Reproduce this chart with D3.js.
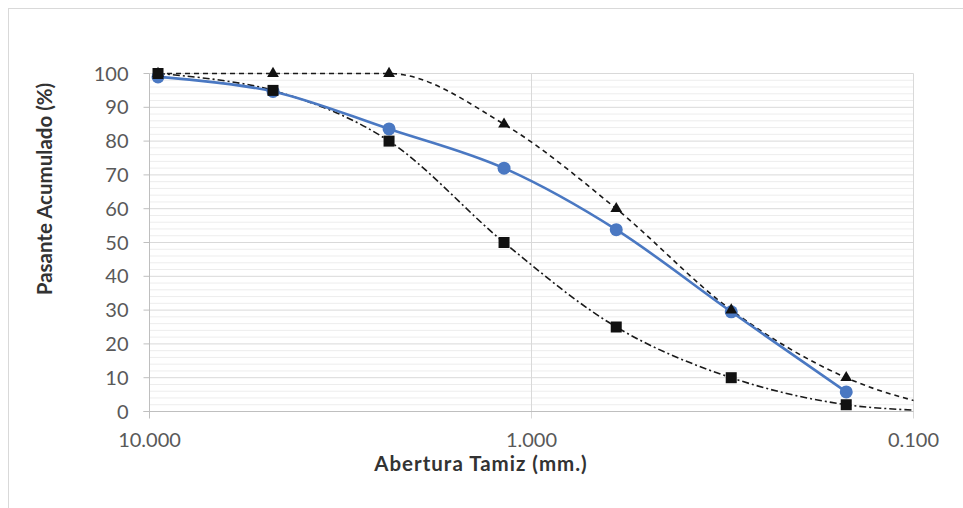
<!DOCTYPE html>
<html>
<head>
  <title>Curva granulometrica</title>
  <script src="https://d3js.org/d3.v7.min.js"></script>
  <meta charset="utf-8">
  <style>
    body { margin: 0; background: #FFFFFF; }
    text { font-family: Lato, "Open Sans", sans-serif; }
    .ticklabel { fill: #595959; font-size: 20px; }
    .title { fill: #333333; font-size: 20.5px; font-weight: bold; }
  </style>
</head>
<body>

  <svg id="granulo" height="508" width="963"></svg>

  <script>
    // sieve openings (mm) and cumulative passing (%)
    const sieves = [9.5, 4.75, 2.36, 1.18, 0.6, 0.3, 0.15];
    const muestra = [99, 94.7, 83.6, 72, 53.8, 29.5, 5.8];

    // limit curves carry one more sieve (0.075) outside the axis range
    const limitSieves = [9.5, 4.75, 2.36, 1.18, 0.6, 0.3, 0.15, 0.075];
    const limiteSuperior = [100, 100, 100, 85, 60, 30, 10, 0];
    const limiteInferior = [100, 95, 80, 50, 25, 10, 2, 0];

    const xTicks = [10, 1, 0.1];
    const yTicks = [0, 10, 20, 30, 40, 50, 60, 70, 80, 90, 100];

    const svg = d3.select("svg#granulo");
    const width = svg.attr("width");
    const height = svg.attr("height");
    const margin = { "top": 73.5, "right": 49.5, "bottom": 96.5, "left": 149.5 };
    const chartWidth = width - margin.left - margin.right;
    const chartHeight = height - margin.top - margin.bottom;

    const xScale = d3.scaleLog().domain([10, 0.1]).range([0, chartWidth]);
    const yScale = d3.scaleLinear().domain([0, 100]).range([chartHeight, 0]);

    // outer chart border
    svg.append("rect")
      .attr("x", 8.5).attr("y", 8.5)
      .attr("width", 980).attr("height", 540)
      .attr("fill", "none").attr("stroke", "#d9d9d9");

    let annotations = svg.append("g").attr("id", "annotations")
      .attr("transform", "translate(" + margin.left + "," + margin.top + ")");

    // minor horizontal gridlines every 2 %
    annotations.selectAll("line.minor").data(d3.range(2, 100, 2).filter(d => d % 10 != 0))
      .join("line").attr("class", "minor")
      .attr("x1", 0).attr("x2", chartWidth)
      .attr("y1", d => yScale(d)).attr("y2", d => yScale(d))
      .attr("stroke", "#ededed").attr("stroke-width", 1);

    // major horizontal gridlines
    annotations.selectAll("line.major").data(yTicks.filter(d => d > 0))
      .join("line").attr("class", "major")
      .attr("x1", 0).attr("x2", chartWidth)
      .attr("y1", d => yScale(d)).attr("y2", d => yScale(d))
      .attr("stroke", "#d9d9d9").attr("stroke-width", 1);

    // vertical gridlines
    annotations.selectAll("line.vgrid").data(xTicks.slice(1))
      .join("line").attr("class", "vgrid")
      .attr("x1", d => xScale(d)).attr("x2", d => xScale(d))
      .attr("y1", 0).attr("y2", chartHeight + 7)
      .attr("stroke", "#d9d9d9").attr("stroke-width", 1);

    // axes lines
    annotations.append("line")
      .attr("x1", 0).attr("x2", 0).attr("y1", 0).attr("y2", chartHeight + 7)
      .attr("stroke", "#bfbfbf");
    annotations.append("line")
      .attr("x1", -6).attr("x2", chartWidth).attr("y1", chartHeight).attr("y2", chartHeight)
      .attr("stroke", "#bfbfbf");

    // y ticks and labels
    annotations.selectAll("line.ytick").data(yTicks)
      .join("line").attr("class", "ytick")
      .attr("x1", -6).attr("x2", 0)
      .attr("y1", d => yScale(d)).attr("y2", d => yScale(d))
      .attr("stroke", "#bfbfbf");

    annotations.selectAll("text.ylab").data(yTicks)
      .join("text").attr("class", "ticklabel ylab")
      .attr("x", -21)
      .attr("y", d => yScale(d))
      .attr("dy", "0.35em")
      .attr("text-anchor", "end")
      .text(d => d);

    annotations.selectAll("text.xlab").data(xTicks)
      .join("text").attr("class", "ticklabel xlab")
      .attr("x", d => xScale(d))
      .attr("y", chartHeight + 35)
      .attr("text-anchor", "middle")
      .text(d3.format(".3f"));

    // axis titles
    svg.append("text").attr("class", "title")
      .attr("x", 481).attr("y", 471)
      .attr("text-anchor", "middle")
      .style("letter-spacing", "1px")
      .text("Abertura Tamiz (mm.)");

    svg.append("text").attr("class", "title")
      .attr("transform", "translate(52,189) rotate(-90)")
      .attr("text-anchor", "middle")
      .text("Pasante Acumulado (%)");

    // plot area
    svg.append("clipPath").attr("id", "plotclip")
      .append("rect").attr("x", 0).attr("y", -10)
      .attr("width", chartWidth).attr("height", chartHeight + 20);

    let chartArea = svg.append("g").attr("id", "curves")
      .attr("transform", "translate(" + margin.left + "," + margin.top + ")");

    const smooth = d3.line()
      .x(d => xScale(d[0]))
      .y(d => yScale(d[1]))
      .curve(d3.curveCatmullRom.alpha(0));

    const smoothFlat = d3.line()
      .x(d => xScale(d[0]))
      .y(d => yScale(d[1]))
      .curve(d3.curveMonotoneX);

    const supData = limitSieves.map((s, i) => [s, limiteSuperior[i]]);
    const infData = limitSieves.map((s, i) => [s, limiteInferior[i]]);
    const muestraData = sieves.map((s, i) => [s, muestra[i]]);

    chartArea.append("path")
      .attr("d", smooth(infData))
      .attr("clip-path", "url(#plotclip)")
      .attr("fill", "none").attr("stroke", "#1a1a1a")
      .attr("stroke-width", 1.6)
      .attr("stroke-dasharray", "7,3,2,3");

    chartArea.append("path")
      .attr("d", smoothFlat(supData))
      .attr("clip-path", "url(#plotclip)")
      .attr("fill", "none").attr("stroke", "#1a1a1a")
      .attr("stroke-width", 1.6)
      .attr("stroke-dasharray", "5,4");

    chartArea.append("path")
      .attr("d", smooth(muestraData))
      .attr("fill", "none").attr("stroke", "#4a78c2")
      .attr("stroke-width", 2.6);

    chartArea.selectAll("circle.muestra").data(muestraData)
      .join("circle").attr("class", "muestra")
      .attr("cx", d => xScale(d[0]))
      .attr("cy", d => yScale(d[1]))
      .attr("r", 6.5)
      .attr("fill", "#4a78c2");

    // markers only for sieves inside the axis range
    const inRange = d => d[0] >= 0.1 && d[0] <= 10;

    chartArea.selectAll("path.tri").data(supData.filter(inRange))
      .join("path").attr("class", "tri")
      .attr("transform", d => "translate(" + xScale(d[0]) + "," + yScale(d[1]) + ")")
      .attr("d", d3.symbol().type(d3.symbolTriangle).size(60))
      .attr("fill", "#111");

    chartArea.selectAll("rect.sq").data(infData.filter(inRange))
      .join("rect").attr("class", "sq")
      .attr("x", d => xScale(d[0]) - 5.5)
      .attr("y", d => yScale(d[1]) - 5.5)
      .attr("width", 11).attr("height", 11)
      .attr("fill", "#111");
  </script>

</body>
</html>
